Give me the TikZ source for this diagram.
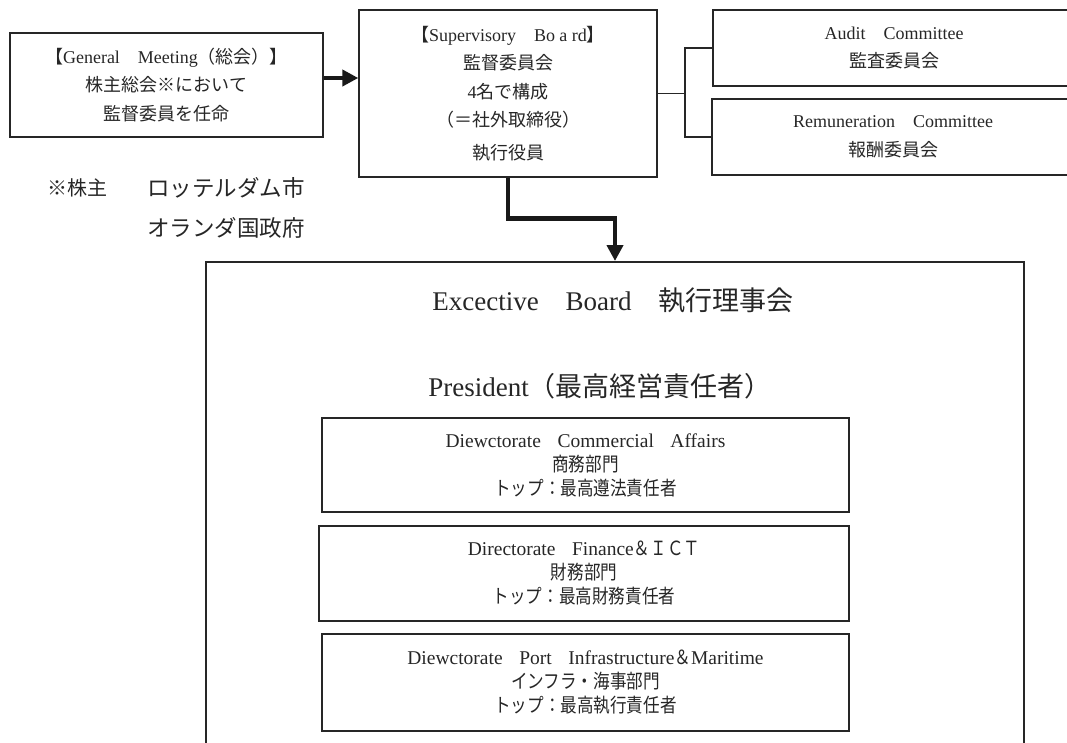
\documentclass[tikz,border=0pt]{standalone}
\usepackage{fontspec}
\setmainfont{Liberation Serif}
\newfontfamily\jpfont{Noto Sans CJK JP}
\newfontfamily\jpcfont[FakeStretch=0.85]{Noto Sans CJK JP}
\newcommand\J[1]{{\jpfont#1}}
\newcommand\JC[1]{{\jpcfont#1}}
\usetikzlibrary{arrows.meta}
\begin{document}
\begin{tikzpicture}[x=1pt,y=-1pt,
  every node/.style={text=black!85},
  box/.style={draw=black!85, line width=1.4pt, inner sep=0pt, align=center,
    font=\fontsize{18}{28.5}\selectfont},
  dirbox/.style={draw=black!85, line width=1.5pt, inner sep=0pt, align=center,
    font=\fontsize{19.5}{24}\selectfont},
  bigtext/.style={font=\fontsize{27}{30}\selectfont, inner sep=0pt},
  notetext/.style={font=\jpfont\fontsize{20}{24}\selectfont, inner sep=0pt, anchor=west},
  fat/.style={line width=4.5pt, draw=black!90, -{Triangle[length=16pt,width=16pt]}},
  thinline/.style={line width=1.4pt, draw=black!85}]
\useasboundingbox (0,0) rectangle (1067,742);
\clip (0,0) rectangle (1067,742);

% top row
\node[box, minimum width=313pt, minimum height=104pt] (gm) at (166.5,85)
  {\J{【}General\J{　}Meeting\J{（総会）】}\\\J{株主総会※において}\\\J{監督委員を任命}};
\node[box, minimum width=298pt, minimum height=167pt] (sb) at (508,93.5)
  {\J{【}Supervisory\J{　}Bo a rd\J{】}\\\J{監督委員会}\\4\J{名で構成}\\\J{（＝社外取締役）}\\[4pt]\J{執行役員}};
\node[box, minimum width=362pt, minimum height=76pt] (audit) at (894,48)
  {Audit\J{　}Committee\\\J{監査委員会}};
\node[box, minimum width=362pt, minimum height=76pt] (remun) at (893,137)
  {Remuneration\J{　}Committee\\\J{報酬委員会}};

% note
\node[notetext] (n1) at (47,188) {※株主};
\node[notetext, font=\jpfont\fontsize{22.5}{24}\selectfont] (n2) at (147,188) {ロッテルダム市};
\node[notetext, font=\jpfont\fontsize{22.5}{24}\selectfont] (n3) at (147,228) {オランダ国政府};

% executive board
\node[draw=black!85, line width=2pt, minimum width=818pt, minimum height=498pt, inner sep=0pt] (exec) at (615,511) {};
\node[bigtext] (eb) at (613,300) {Excective\J{　}Board\J{　執行理事会}};
\node[bigtext] (pr) at (600,386) {President\J{（最高経営責任者）}};

\node[dirbox, minimum width=527pt, minimum height=94pt] (com) at (585.5,465)
  {Diewctorate\JC{　}Commercial\JC{　}Affairs\\\JC{商務部門}\\\JC{トップ：最高遵法責任者}};
\node[dirbox, minimum width=530pt, minimum height=95pt] (fin) at (584,573.5)
  {Directorate\JC{　}Finance\JC{＆ＩＣＴ}\\\JC{財務部門}\\\JC{トップ：最高財務責任者}};
\node[dirbox, minimum width=527pt, minimum height=97pt] (port) at (585.5,682.5)
  {Diewctorate\JC{　}Port\JC{　}Infrastructure\JC{＆}Maritime\\\JC{インフラ・海事部門}\\\JC{トップ：最高執行責任者}};

% connectors
\coordinate (j) at (685,93.5);
\draw[thinline] (sb.east) -- (j);
\draw[thinline] (audit.west) -| (j) |- (remun.west);
\draw[fat] ([yshift=7pt]gm.east) -- ([yshift=7pt]gm.east -| sb.west);
\draw[fat] (sb.south) -- ++(0,41) -| (exec.north);
\end{tikzpicture}
\end{document}
